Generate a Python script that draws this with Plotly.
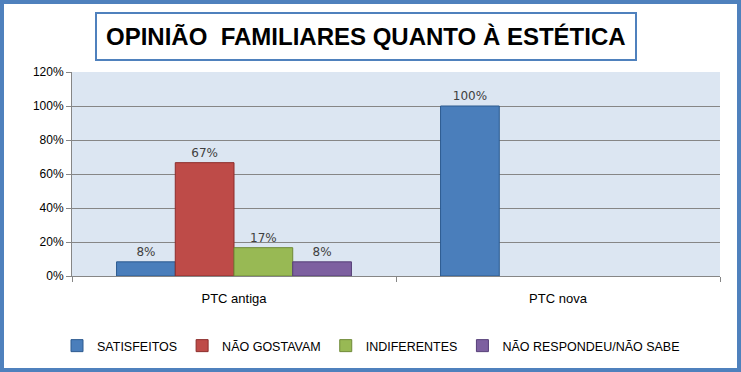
import plotly.graph_objects as go

categories = ["PTC antiga", "PTC nova"]
series_names = ["SATISFEITOS", "NÃO GOSTAVAM", "INDIFERENTES", "NÃO RESPONDEU/NÃO SABE"]
values = {
    "SATISFEITOS": [0.0833, 1.0],
    "NÃO GOSTAVAM": [0.6667, 0.0],
    "INDIFERENTES": [0.1667, 0.0],
    "NÃO RESPONDEU/NÃO SABE": [0.0833, 0.0],
}
colors = ["#4A7EBB", "#BE4B48", "#98B954", "#7D60A0"]
lines = ["#2C5A8F", "#8C2D2B", "#6F8A37", "#563F78"]
title_text = "OPINIÃO\u00a0 FAMILIARES QUANTO À ESTÉTICA"
y_ticks = [0, 0.2, 0.4, 0.6, 0.8, 1.0, 1.2]
y_tick_labels = ["0%", "20%", "40%", "60%", "80%", "100%", "120%"]

FONT = "Liberation Sans, sans-serif"

fig = go.Figure()
for name, c, lc in zip(series_names, colors, lines):
    vals = values[name]
    texts = [f"{round(v*100):.0f}%" if v > 0 else "" for v in vals]
    fig.add_trace(go.Bar(
        x=categories, y=vals, name=name,
        marker=dict(color=c, line=dict(color=lc, width=[1 if v > 0 else 0 for v in vals])),
        text=texts, textposition="outside", cliponaxis=False,
        textfont=dict(family="DejaVu Sans", size=12, color="#404040"),
    ))

W, H = 741, 372
L, R, T, B = 72, 21, 72, 96
pw = W - L - R
ph = H - T - B

def px_x(p):
    return (p - L) / pw

def px_y(p):
    return (H - B - p) / ph

fig.update_layout(
    width=W, height=H,
    margin=dict(l=L, r=R, t=T, b=B, autoexpand=False),
    paper_bgcolor="white",
    plot_bgcolor="#DCE6F2",
    barmode="group",
    bargap=0.275,
    bargroupgap=0,
    showlegend=True,
    legend=dict(orientation="h", x=px_x(371), xanchor="center", y=px_y(346), yanchor="middle",
                font=dict(family=FONT, size=12.5, color="black"),
                itemwidth=30, traceorder="normal"),
    font=dict(family=FONT, size=12, color="black"),
    xaxis=dict(type="category", tickson="boundaries", ticks="outside", ticklen=5,
               tickcolor="#868686", showline=True, linecolor="#868686", showgrid=False,
               ticklabelstandoff=10,
               tickfont=dict(family=FONT, size=13, color="black")),
    yaxis=dict(range=[0, 1.2], tickvals=y_ticks, ticktext=y_tick_labels,
               ticks="outside", ticklen=5, tickcolor="#868686", showline=True,
               linecolor="#868686", showgrid=True, gridcolor="#868686", gridwidth=1,
               tickfont=dict(family=FONT, size=12, color="black"), zeroline=False),
    annotations=[dict(
        text=f"<b>{title_text}</b>", xref="paper", yref="paper",
        x=px_x(366), y=px_y(37), xanchor="center", yanchor="middle", showarrow=False,
        font=dict(family=FONT, size=24, color="black"),
        bordercolor="#4F81BD", borderwidth=2, borderpad=9, bgcolor="white",
    )],
    shapes=[dict(type="rect", xref="paper", yref="paper",
                 x0=px_x(2), x1=px_x(739), y0=px_y(370), y1=px_y(2),
                 line=dict(color="#4F81BD", width=4), layer="above")],
)

fig.write_html("out.html", config={"displayModeBar": False},
               post_script="document.body.style.margin='0';")
